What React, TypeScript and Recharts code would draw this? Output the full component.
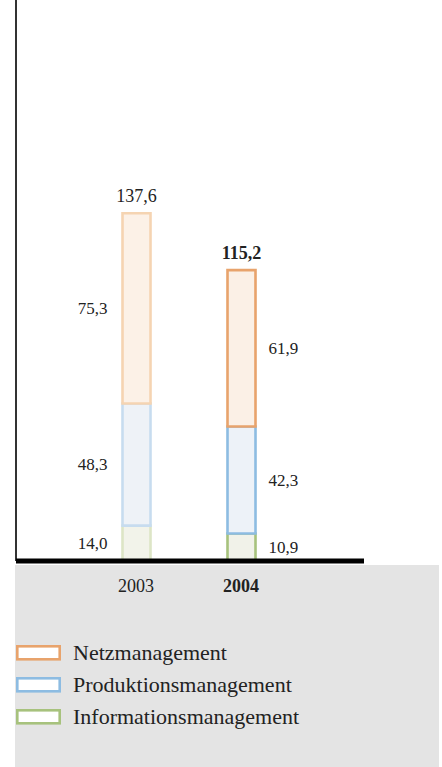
import { BarChart, Bar, XAxis, YAxis, Cell, LabelList, Legend } from "recharts";

const years = ["2003", "2004"];
const netzmanagement = [75.3, 61.9];
const produktionsmanagement = [48.3, 42.3];
const informationsmanagement = [14.0, 10.9];
const totals = [137.6, 115.2];

const FONT = '"Liberation Serif", "Times New Roman", serif';

// index 0 = faded (2003), index 1 = strong (2004)
const SERIES = [
  {
    key: "information",
    name: "Informationsmanagement",
    stroke: ["#dde5c6", "#a7c27d"],
    fill: ["#f2f3ea", "#f1f2e9"],
  },
  {
    key: "produktion",
    name: "Produktionsmanagement",
    stroke: ["#c7dcef", "#8dbce2"],
    fill: ["#eef2f7", "#edf2f8"],
  },
  {
    key: "netz",
    name: "Netzmanagement",
    stroke: ["#f5d4b2", "#e8a36c"],
    fill: ["#fcf1e7", "#fbf0e6"],
  },
];

const data = years.map((year, i) => ({
  year,
  information: informationsmanagement[i],
  produktion: produktionsmanagement[i],
  netz: netzmanagement[i],
  total: totals[i],
}));

const fmt = (v: number) => v.toFixed(1).replace(".", ",");

const renderSegmentLabel = (props: any) => {
  const { x, y, width, height, value, index } = props;
  const left = index === 0;
  return (
    <text
      x={left ? x - 15 : x + width + 13}
      y={y + height / 2}
      textAnchor={left ? "end" : "start"}
      dominantBaseline="central"
      fontSize={17}
      fontFamily={FONT}
      fill="#222"
    >
      {fmt(value)}
    </text>
  );
};

const renderTotalLabel = (props: any) => {
  const { x, y, width, value, index } = props;
  return (
    <text
      x={x + width / 2}
      y={y - 11}
      textAnchor="middle"
      fontSize={18}
      fontFamily={FONT}
      fontWeight={index === 1 ? "bold" : "normal"}
      fill="#222"
    >
      {fmt(value)}
    </text>
  );
};

const YearTick = (props: any) => {
  const { x, y, payload } = props;
  return (
    <text
      x={x}
      y={y + 31}
      textAnchor="middle"
      fontSize={18}
      fontFamily={FONT}
      fontWeight={payload.value === "2004" ? "bold" : "normal"}
      fill="#222"
    >
      {payload.value}
    </text>
  );
};

const LegendContent = () => (
  <div style={{ fontFamily: FONT }}>
    {[...SERIES].reverse().map((s) => (
      <div key={s.key} style={{ display: "flex", alignItems: "center", height: 31.7 }}>
        <svg width={46} height={16} style={{ display: "block" }}>
          <rect x={1.3} y={1.3} width={42.4} height={13} fill="#fff" stroke={s.stroke[1]} strokeWidth={2.6} />
        </svg>
        <span style={{ fontSize: 22, color: "#222", marginLeft: 11 }}>{s.name}</span>
      </div>
    ))}
  </div>
);

export default function App() {
  return (
    <div style={{ position: "relative", width: 442, height: 767, overflow: "hidden" }}>
      <style>{"body{margin:0}"}</style>
      <div
        style={{
          position: "absolute",
          left: 15,
          top: 565,
          width: 424,
          height: 202,
          background: "#e4e4e4",
        }}
      />
      <div style={{ position: "absolute", left: 0, top: 0 }}>
        <BarChart
          width={442}
          height={767}
          data={data}
          margin={{ top: 0, right: 78, left: 0, bottom: 166 }}
        >
          <YAxis
            width={16}
            domain={[0, 222]}
            ticks={[]}
            tick={false}
            tickLine={false}
            axisLine={{ stroke: "#333", strokeWidth: 2 }}
          />
          <XAxis
            dataKey="year"
            height={40}
            padding={{ left: 67.5, right: 70.5 }}
            tickSize={0}
            tickMargin={0}
            tickLine={false}
            axisLine={{ stroke: "#000", strokeWidth: 5 }}
            tick={<YearTick />}
          />
          <Legend
            layout="horizontal"
            verticalAlign="middle"
            align="center"
            content={<LegendContent />}
            wrapperStyle={{ position: "absolute", left: 16, top: 637.5, width: 320 }}
          />
          {SERIES.map((s) => (
            <Bar
              key={s.key}
              dataKey={s.key}
              name={s.name}
              stackId="a"
              barSize={28}
              fill={s.fill[1]}
              stroke={s.stroke[1]}
              strokeWidth={2.6}
              isAnimationActive={false}
            >
              {data.map((_, i) => (
                <Cell key={i} fill={s.fill[i]} stroke={s.stroke[i]} />
              ))}
              <LabelList dataKey={s.key} content={renderSegmentLabel} />
              {s.key === "netz" && <LabelList dataKey="total" content={renderTotalLabel} />}
            </Bar>
          ))}
        </BarChart>
      </div>
    </div>
  );
}
